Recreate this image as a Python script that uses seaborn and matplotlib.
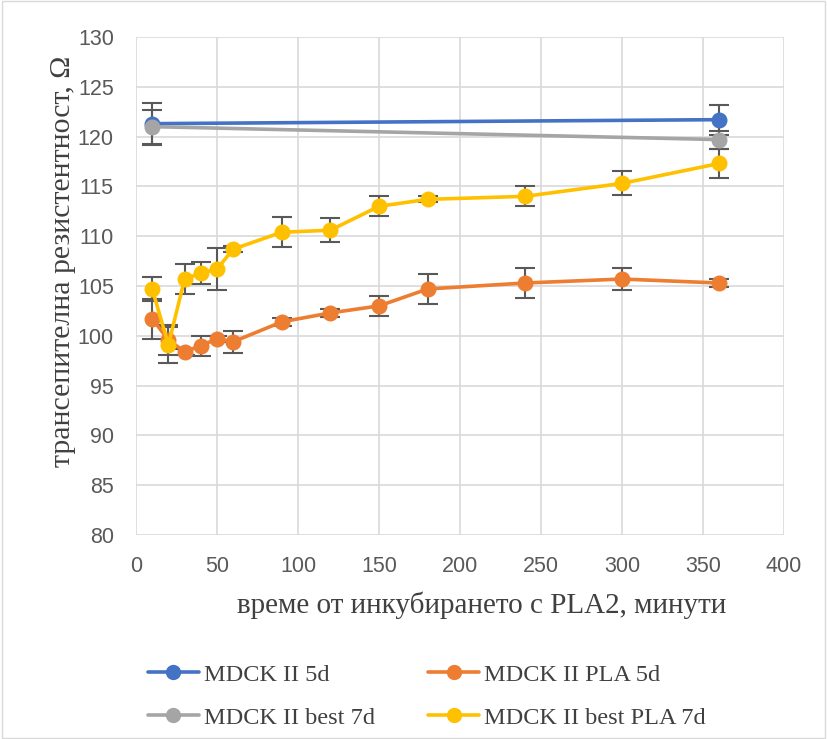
import matplotlib
matplotlib.use("Agg")
import matplotlib.pyplot as plt
import pandas as pd
import seaborn as sns

# time points, minutes
t_short = [10, 360]
t_long = [10, 20, 30, 40, 50, 60, 90, 120, 150, 180, 240, 300, 360]

mdck_5d = [121.3, 121.7]
mdck_5d_err = [2.1, 1.5]
mdck_best_7d = [121.0, 119.7]
mdck_best_7d_err = [1.7, 0.9]
mdck_pla_5d = [101.7, 99.6, 98.4, 99.0, 99.7, 99.4, 101.4, 102.3, 103.0, 104.7, 105.3, 105.7, 105.3]
mdck_pla_5d_err = [2.0, 1.5, 0.3, 1.0, 0.3, 1.1, 0.4, 0.4, 1.0, 1.5, 1.5, 1.1, 0.4]
mdck_best_pla_7d = [104.7, 99.1, 105.7, 106.3, 106.7, 108.7, 110.4, 110.6, 113.0, 113.7, 114.0, 115.3, 117.3]
mdck_best_pla_7d_err = [1.2, 1.8, 1.5, 1.1, 2.1, 0.3, 1.5, 1.2, 1.0, 0.3, 1.0, 1.2, 1.5]

SERIES = [
    ("MDCK II 5d", t_short, mdck_5d, mdck_5d_err, "#4472C4"),
    ("MDCK II PLA 5d", t_long, mdck_pla_5d, mdck_pla_5d_err, "#ED7D31"),
    ("MDCK II best 7d", t_short, mdck_best_7d, mdck_best_7d_err, "#A5A5A5"),
    ("MDCK II best PLA 7d", t_long, mdck_best_pla_7d, mdck_best_pla_7d_err, "#FFC000"),
]

sns.set_style("white")
plt.rcParams["font.family"] = ["Liberation Serif", "DejaVu Serif"]

df = pd.concat([
    pd.DataFrame({"t": t, "R": v, "err": e, "series": name})
    for name, t, v, e, _ in SERIES
])
palette = {name: c for name, _, _, _, c in SERIES}

fig = plt.figure(figsize=(8.27, 7.39), dpi=100)
ax = fig.add_axes([136 / 827, 1 - 535 / 739, (784 - 136) / 827, (535 - 37) / 739])

for name, t, v, e, c in SERIES:
    ax.errorbar(t, v, yerr=e, fmt="none", ecolor="#595959", elinewidth=1.5,
                capsize=7, capthick=1.5, zorder=2)

sns.lineplot(data=df, x="t", y="R", hue="series", palette=palette,
             hue_order=[s[0] for s in SERIES], marker="o", markersize=11.5,
             markeredgewidth=0, linewidth=2.6, ax=ax, legend=False, zorder=3,
             estimator=None, sort=True)

ax.set_xlim(0, 400)
ax.set_ylim(80, 130)
ax.set_xticks(range(0, 401, 50))
ax.set_yticks(range(80, 131, 5))
ax.grid(True, color="#d9d9d9", linewidth=1.2)
ax.set_axisbelow(True)
for s in ax.spines.values():
    s.set_visible(False)
ax.tick_params(axis="y", length=0, labelsize=15.5, labelcolor="#595959", pad=16)
ax.tick_params(axis="x", length=0, labelsize=15.5, labelcolor="#595959", pad=15)
for lbl in ax.get_xticklabels() + ax.get_yticklabels():
    lbl.set_family(["Liberation Sans", "DejaVu Sans"])

ax.set_xlabel("време от инкубирането с PLA2, минути", fontsize=21, color="#404040",
              va="center")
ax.set_ylabel("трансепителна резистентност, Ω", fontsize=21.5, color="#404040",
              va="center")
ax.xaxis.set_label_coords((482 - 136) / 648, -70 / 498)
ax.yaxis.set_label_coords((63 - 136) / 648, (535 - 261) / 498)

# row-major order as in the original legend
order = [0, 2, 1, 3]
handles = [plt.Line2D([], [], color=SERIES[i][4], marker="o", markersize=11, linewidth=2.6,
                      markeredgewidth=0) for i in order]
fig.legend(handles, [SERIES[i][0] for i in order], ncol=2, loc="upper left",
           bbox_to_anchor=(126 / 827, 1 - 642 / 739), frameon=False,
           fontsize=17.5, labelcolor="#404040", columnspacing=2.2, handlelength=2.1,
           handletextpad=0.2, labelspacing=0.85)

fig.patches.append(plt.Rectangle((0.002, 0.002), 0.996, 0.996, transform=fig.transFigure,
                                 fill=False, edgecolor="#d9d9d9", linewidth=1))

fig.savefig("out.png", dpi=100)
